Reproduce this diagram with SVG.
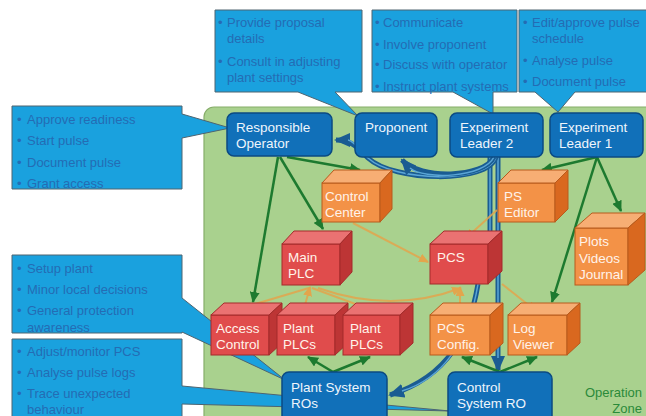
<svg xmlns="http://www.w3.org/2000/svg" width="646" height="416" viewBox="0 0 646 416">
<style>
text{font-family:"Liberation Sans",Arial,sans-serif;font-size:13px}
.co{fill:#1aa1de;stroke:#4e6470;stroke-width:1}
.ct{fill:#246cb4}
.bn{fill:#1170b9;stroke:#0b4a82;stroke-width:1.5}
.bt{fill:#eef5fc;font-size:13.5px}
.wt{fill:#fff3ea;font-size:13.5px}
.of{fill:#f39247;stroke:#b85a1c;stroke-width:1}
.ot{fill:#f7ae74;stroke:#b85a1c;stroke-width:1}
.os{fill:#d9681f;stroke:#b85a1c;stroke-width:1}
.rf{fill:#e04c4c;stroke:#a32b2b;stroke-width:1}
.rt{fill:#ea7272;stroke:#a32b2b;stroke-width:1}
.rs{fill:#bd3535;stroke:#a32b2b;stroke-width:1}
.g{fill:none;stroke:#1d7a2f;stroke-width:2.5;marker-end:url(#ga)}
.o{fill:none;stroke:#e3a54c;stroke-width:2;stroke-opacity:0.85}
.oa{marker-end:url(#oa)}
.bo{fill:none;stroke:#1a5c92;stroke-width:5}
.bi{fill:none;stroke:#5ba6d6;stroke-width:1.5}
.ba{marker-end:url(#ba)}
</style>
<defs>
<marker id="ga" markerUnits="userSpaceOnUse" markerWidth="11" markerHeight="10" refX="10" refY="5" orient="auto"><path d="M0,0 L11,5 L0,10 z" fill="#1d7a2f"/></marker>
<marker id="oa" markerUnits="userSpaceOnUse" markerWidth="10" markerHeight="9" refX="9" refY="4.5" orient="auto"><path d="M0,0 L10,4.5 L0,9 z" fill="#e3a54c"/></marker>
<marker id="ba" markerUnits="userSpaceOnUse" markerWidth="16" markerHeight="14" refX="14" refY="7" orient="auto"><path d="M0,0 L16,7 L0,14 z" fill="#1a5c92"/></marker>
</defs>

<rect id="operation-zone" x="204" y="107" width="460" height="330" rx="10" fill="#a9d18e" stroke="#86ad69" stroke-width="1.2"/>

<g id="callout-operator">
<path class="co" d="M12,106 H182 V114 L230,128 L182,138 V189 H12 Z"/>
<text class="ct"><tspan x="17" y="124">•</tspan><tspan x="27" y="124">Approve readiness</tspan></text>
<text class="ct"><tspan x="17" y="145">•</tspan><tspan x="27" y="145">Start pulse</tspan></text>
<text class="ct"><tspan x="17" y="167">•</tspan><tspan x="27" y="167">Document pulse</tspan></text>
<text class="ct"><tspan x="17" y="188">•</tspan><tspan x="27" y="188">Grant access</tspan></text>
</g>
<g id="callout-proponent">
<path class="co" d="M215,10 H362 V92 H335 L358,116 L298,92 H215 Z"/>
<text class="ct"><tspan x="218" y="27">•</tspan><tspan x="227" y="27">Provide proposal</tspan></text>
<text class="ct" x="227" y="43">details</text>
<text class="ct"><tspan x="218" y="66">•</tspan><tspan x="227" y="66">Consult in adjusting</tspan></text>
<text class="ct" x="227" y="82">plant settings</text>
</g>
<g id="callout-el2">
<path class="co" d="M372,10 H517 V92 H493 L493,114 L453,92 H372 Z"/>
<text class="ct"><tspan x="375" y="27">•</tspan><tspan x="383" y="27">Communicate</tspan></text>
<text class="ct"><tspan x="375" y="49">•</tspan><tspan x="383" y="49">Involve proponent</tspan></text>
<text class="ct"><tspan x="375" y="69">•</tspan><tspan x="383" y="69">Discuss with operator</tspan></text>
<text class="ct"><tspan x="375" y="91">•</tspan><tspan x="383" y="91">Instruct plant systems</tspan></text>
</g>
<g id="callout-el1">
<path class="co" d="M519,10 H650 V92 H575 L558,112 L535,92 H519 Z"/>
<text class="ct"><tspan x="523" y="27">•</tspan><tspan x="532" y="27">Edit/approve pulse</tspan></text>
<text class="ct" x="532" y="43">schedule</text>
<text class="ct"><tspan x="523" y="65">•</tspan><tspan x="532" y="65">Analyse pulse</tspan></text>
<text class="ct"><tspan x="523" y="86">•</tspan><tspan x="532" y="86">Document pulse</tspan></text>
</g>
<g id="callout-plant">
<path class="co" d="M12,255 H182 V298 L285,380 L182,332 V333 H12 Z"/>
<text class="ct"><tspan x="17" y="273">•</tspan><tspan x="27" y="273">Setup plant</tspan></text>
<text class="ct"><tspan x="17" y="294">•</tspan><tspan x="27" y="294">Minor local decisions</tspan></text>
<text class="ct"><tspan x="17" y="315">•</tspan><tspan x="27" y="315">General protection</tspan></text>
<text class="ct" x="27" y="332">awareness</text>
</g>
<g id="callout-control">
<path class="co" d="M12,339 H182 V386 L450,411 L182,404 V420 H12 Z"/>
<text class="ct"><tspan x="17" y="356">•</tspan><tspan x="27" y="356">Adjust/monitor PCS</tspan></text>
<text class="ct"><tspan x="17" y="377">•</tspan><tspan x="27" y="377">Analyse pulse logs</tspan></text>
<text class="ct"><tspan x="17" y="398">•</tspan><tspan x="27" y="398">Trace unexpected</tspan></text>
<text class="ct" x="27" y="414">behaviour</text>
</g>

<g id="connectors">
<path class="bo" d="M490,157 L490,246"/>
<path class="bi" d="M490,157 L490,246"/>
<path class="bo ba" d="M498,157 L498,370"/>
<path class="bi" d="M498,157 L498,358"/>
<path class="bo ba" d="M478,284 C 470,332 450,376 390,395"/>
<path class="bi" d="M478,284 C 470,332 450,376 402,391"/>
<path class="bo ba" d="M496,157 C 488,184 394,182 368,158 C 358,148 352,140 336,140"/>
<path class="bi" d="M496,157 C 488,184 394,182 368,158 C 358,148 354,141 348,140"/>
<path class="bo ba" d="M494,157 C 484,178 420,180 402,160"/>
<path class="bi" d="M494,157 C 484,178 424,180 410,168"/>
<path class="o oa" d="M353,223 L428,262"/>
<path class="o oa" d="M497,210 L466,238"/>
<path class="o oa" d="M502,284 L536,311"/>
<path class="o oa" d="M460,314 L460,287"/>
<path class="o oa" d="M318,288 Q 392,314 461,288"/>
<path class="o" d="M252,305 L309,288"/>
<path class="o oa" d="M305,305 L310,287"/>
<path class="o" d="M358,305 L312,288"/>
<path class="g" d="M287,157 L360,170"/>
<path class="g" d="M280,157 L323,229"/>
<path class="g" d="M278,157 L253,302"/>
<path class="g" d="M597,157 L542,170"/>
<path class="g" d="M597,157 L621,211"/>
<path class="g" d="M597,157 L552,302"/>
<path class="g" d="M333,372 L308,357"/>
<path class="g" d="M333,372 L370,357"/>
<path class="g" d="M500,372 L462,357"/>
<path class="g" d="M500,372 L537,357"/>
</g>

<g id="control-center">
<rect class="of" x="322" y="183" width="58" height="39"/>
<polygon class="ot" points="322,183 334,170 392,170 380,183"/>
<polygon class="os" points="380,183 392,170 392,209 380,222"/>
<text class="wt" x="325" y="201">Control</text><text class="wt" x="325" y="217">Center</text>
</g>
<g id="ps-editor">
<rect class="of" x="498" y="183" width="57" height="39"/>
<polygon class="ot" points="498,183 511,170 568,170 555,183"/>
<polygon class="os" points="555,183 568,170 568,209 555,222"/>
<text class="wt" x="504" y="201">PS</text><text class="wt" x="504" y="217">Editor</text>
</g>
<g id="main-plc">
<rect class="rf" x="282" y="244" width="58" height="41"/>
<polygon class="rt" points="282,244 294,231 352,231 340,244"/>
<polygon class="rs" points="340,244 352,231 352,272 340,285"/>
<text class="wt" x="288" y="262">Main</text><text class="wt" x="288" y="278">PLC</text>
</g>
<g id="pcs">
<rect class="rf" x="430" y="244" width="58" height="40"/>
<polygon class="rt" points="430,244 444,231 502,231 488,244"/>
<polygon class="rs" points="488,244 502,231 502,271 488,284"/>
<text class="wt" x="437" y="262">PCS</text>
</g>
<g id="plots-videos-journal">
<rect class="of" x="575" y="228" width="53" height="57"/>
<polygon class="ot" points="575,228 592,213 645,213 628,228"/>
<polygon class="os" points="628,228 645,213 645,270 628,285"/>
<text class="wt" x="579" y="246">Plots</text><text class="wt" x="579" y="263">Videos</text><text class="wt" x="579" y="279">Journal</text>
</g>
<g id="access-control">
<rect class="rf" x="211" y="315" width="58" height="40"/>
<polygon class="rt" points="211,315 224,303 282,303 269,315"/>
<polygon class="rs" points="269,315 282,303 282,343 269,355"/>
<text class="wt" x="216" y="333">Access</text><text class="wt" x="216" y="349">Control</text>
</g>
<g id="plant-plcs-1">
<rect class="rf" x="277" y="315" width="58" height="40"/>
<polygon class="rt" points="277,315 290,303 348,303 335,315"/>
<polygon class="rs" points="335,315 348,303 348,343 335,355"/>
<text class="wt" x="283" y="333">Plant</text><text class="wt" x="283" y="349">PLCs</text>
</g>
<g id="plant-plcs-2">
<rect class="rf" x="343" y="315" width="57" height="40"/>
<polygon class="rt" points="343,315 356,303 413,303 400,315"/>
<polygon class="rs" points="400,315 413,303 413,343 400,355"/>
<text class="wt" x="350" y="333">Plant</text><text class="wt" x="350" y="349">PLCs</text>
</g>
<g id="pcs-config">
<rect class="of" x="430" y="315" width="60" height="40"/>
<polygon class="ot" points="430,315 443,303 503,303 490,315"/>
<polygon class="os" points="490,315 503,303 503,343 490,355"/>
<text class="wt" x="437" y="333">PCS</text><text class="wt" x="437" y="349">Config.</text>
</g>
<g id="log-viewer">
<rect class="of" x="508" y="315" width="59" height="40"/>
<polygon class="ot" points="508,315 521,303 580,303 567,315"/>
<polygon class="os" points="567,315 580,303 580,343 567,355"/>
<text class="wt" x="513" y="333">Log</text><text class="wt" x="513" y="349">Viewer</text>
</g>

<g id="responsible-operator">
<rect class="bn" x="227" y="113" width="105" height="43" rx="7"/>
<text class="bt" x="236" y="132">Responsible</text><text class="bt" x="236" y="148">Operator</text>
</g>
<g id="proponent">
<rect class="bn" x="355" y="113" width="82" height="44" rx="7"/>
<text class="bt" x="365" y="132">Proponent</text>
</g>
<g id="experiment-leader-2">
<rect class="bn" x="450" y="113" width="93" height="44" rx="7"/>
<text class="bt" x="460" y="132">Experiment</text><text class="bt" x="460" y="148">Leader 2</text>
</g>
<g id="experiment-leader-1">
<rect class="bn" x="550" y="113" width="93" height="44" rx="7"/>
<text class="bt" x="559" y="132">Experiment</text><text class="bt" x="559" y="148">Leader 1</text>
</g>
<g id="plant-system-ros">
<rect class="bn" x="282" y="372" width="105" height="54" rx="7"/>
<text class="bt" x="291" y="392">Plant System</text><text class="bt" x="291" y="408">ROs</text>
</g>
<g id="control-system-ro">
<rect class="bn" x="448" y="372" width="104" height="54" rx="7"/>
<text class="bt" x="457" y="392">Control</text><text class="bt" x="457" y="408">System RO</text>
</g>

<g id="zone-label">
<text x="642" y="397" text-anchor="end" fill="#2b8a3a">Operation</text>
<text x="642" y="413" text-anchor="end" fill="#2b8a3a">Zone</text>
</g>
</svg>
